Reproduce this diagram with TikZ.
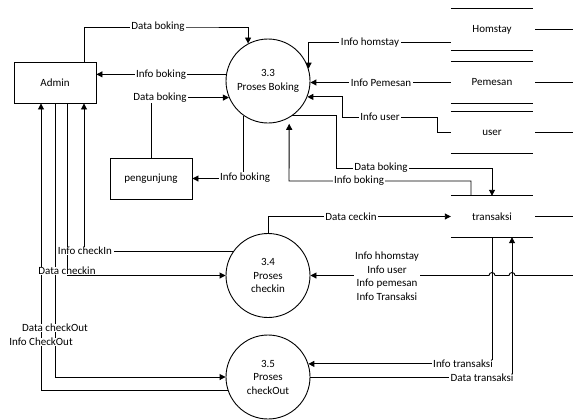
\documentclass[tikz,border=0pt]{standalone}
\usepackage{fontspec}
\setmainfont{Carlito}
\usetikzlibrary{arrows.meta}
\begin{document}
\begin{tikzpicture}[x=1bp,y=-1bp,
  every node/.style={font=\fontsize{11bp}{13.5bp}\selectfont},
  entity/.style={draw, line width=0.9bp, minimum width=82bp, minimum height=41bp, inner sep=0pt},
  process/.style={draw, line width=0.9bp, circle, minimum size=84bp, inner sep=0pt, align=center},
  store/.style={minimum width=82bp, minimum height=41bp, inner sep=0pt},
  link/.style={line width=0.9bp},
  flow/.style={line width=0.9bp, -{Triangle[length=6bp,width=6bp]}},
  lbl/.style={fill=white, inner xsep=1.5bp, inner ysep=0.5bp, align=center}]
\useasboundingbox (0,0) rectangle (573,419);

% external entities
\node[entity] (admin) at (55,82.5) {Admin};
\node[entity] (peng) at (151,178.5) {pengunjung};

% processes
\node[process] (p33) at (268,81) {3.3\\Proses Boking};
\node[process] (p34) at (268,275.5) {3.4\\Proses\\checkin};
\node[process] (p35) at (268,377) {3.5\\Proses\\checkOut};

% data stores
\node[store] (homstay) at (492,29.5) {Homstay};
\node[store] (pemesan) at (492,82.5) {Pemesan};
\node[store] (user) at (492,132.5) {user};
\node[store] (trans) at (492,216.5) {transaksi};
\foreach \s in {homstay,pemesan,user,trans}{
  \draw[link] (\s.north west) -- (\s.north east) (\s.south west) -- (\s.south east);
  \draw[link] ([xshift=2bp]\s.east) -- ++(40,0);
}

% flows of process 3.3
\draw[flow] ([xshift=29bp]admin.north) |- (190,27) -| (p33.118.5);
\draw[flow] (p33.171.8) -- (p33.171.8 -| admin.east);
\draw[flow] (peng.north) |- (p33.203.9);
\draw[flow] (p33.235.2) |- (peng.east);
\draw[flow] ([yshift=-13bp]homstay.west) -| (p33.17.75);
\draw[flow] (p33.-2.7 -| pemesan.west) -- (p33.-2.7);
\draw[flow] (user.west) -- ++(-13,0) |- (342,117) |- (p33.-22.4);
\draw[flow] (p33.-55) -| (336,168) -| (trans.north);
\draw[flow, shorten >=6bp] ([xshift=-21bp]trans.north) |- (289,181) -- (p33.-60);

% flows of process 3.4
\draw[flow] (p34.north) |- (trans.west);
\draw[flow] (p34.145.2) -| ([xshift=29bp]admin.south);
\draw[flow] ([xshift=12bp]admin.south) |- (p34.west);
\coordinate (rin) at (573,275.5);
\draw[flow] (rin) -- (515,275.5) arc[start angle=0,end angle=180,radius=3bp]
  -- (495,275.5) arc[start angle=0,end angle=180,radius=3bp] -- (p34.east);

% flows of process 3.5
\draw[flow] (admin.south) |- (p35.west);
\draw[flow] (p35.199.5) -| ([xshift=-14bp]admin.south);
\draw[flow] (trans.south) |- (p35.18);
\draw[flow] (p35.east) -| ([xshift=20bp]trans.south);

% flow labels
\node[lbl] (l1) at (158,27) {Data boking};
\node[lbl] (l2) at (161,75) {Info boking};
\node[lbl] (l3) at (160,98) {Data boking};
\node[lbl] (l4) at (245,177.5) {Info boking};
\node[lbl] (l5) at (370,43) {Info homstay};
\node[lbl] (l6) at (381,83) {Info Pemesan};
\node[lbl] (l7) at (380,117) {Info user};
\node[lbl] (l8) at (381,168) {Data boking};
\node[lbl] (l9) at (359,181) {Info boking};
\node[lbl] (l10) at (351,216.5) {Data ceckin};
\node[lbl] (l11) at (85,251) {Info checkIn};
\node[lbl] (l12) at (67,271) {Data checkin};
\node[lbl] (l13) at (387,276) {Info hhomstay\\Info user\\Info pemesan\\Info Transaksi};
\node[lbl] (l14) at (55,328) {Data checkOut};
\node[lbl] (l15) at (41,342) {Info CheckOut};
\node[lbl] (l16) at (463,364) {Info transaksi};
\node[lbl] (l17) at (482,378) {Data transaksi};
\end{tikzpicture}
\end{document}
